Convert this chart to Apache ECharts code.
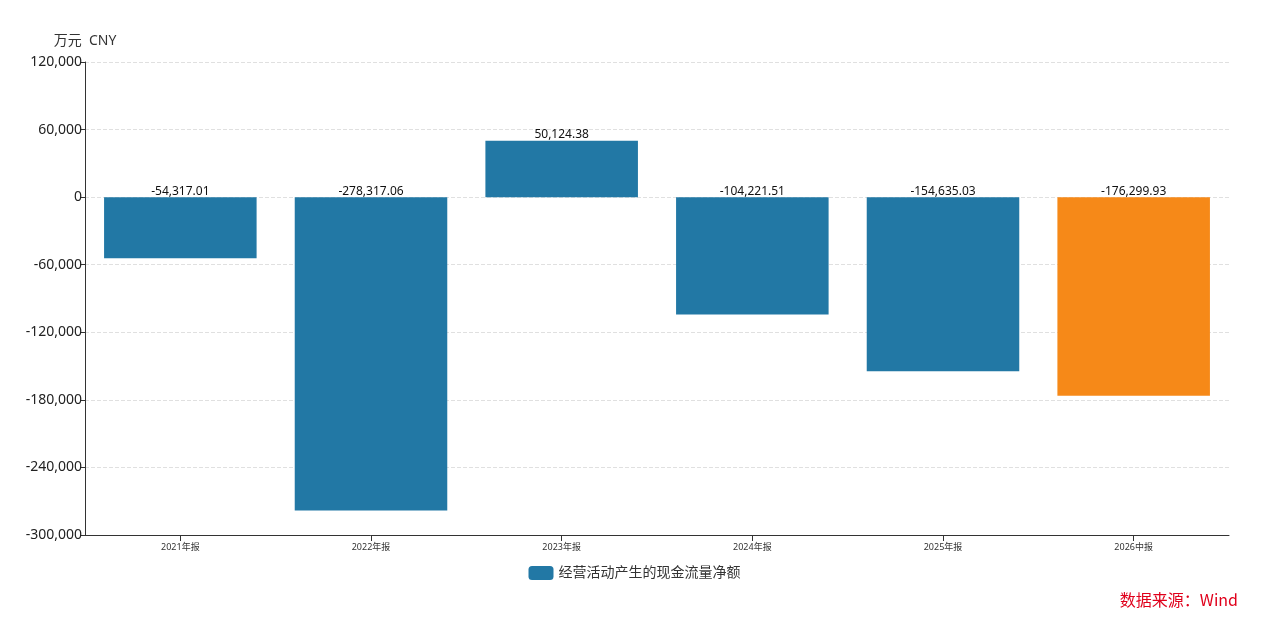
<!DOCTYPE html>
<html><head><meta charset="utf-8">
<script src="https://cdn.jsdelivr.net/npm/echarts@6/dist/echarts.min.js"></script>
<style>html,body{margin:0;padding:0;background:#fff}#c{width:1269px;height:622px}</style>
</head><body><div id="c"></div>
<script>
var categories = ['2021年报','2022年报','2023年报','2024年报','2025年报','2026中报'];
var values = [-54317.01, -278317.06, 50124.38, -104221.51, -154635.03, -176299.93];
var highlightIndex = 5;
var seriesName = '经营活动产生的现金流量净额';
var yMin = -300000, yMax = 120000, yStep = 60000;

var FONT = "'Noto Sans','Noto Sans CJK SC',sans-serif";
var chart = echarts.init(document.getElementById('c'));
var fmt = function(v, d){ return v.toLocaleString('en-US', {minimumFractionDigits:d, maximumFractionDigits:d}); };
chart.setOption({
  animation: false,
  textStyle: {fontFamily: FONT},
  grid: {left: 85, right: 40, top: 62, bottom: 87},
  legend: {
    bottom: 37, left: 'center', itemWidth: 25, itemHeight: 14, icon: 'roundRect', itemGap: 6,
    textStyle: {fontSize: 14, color: '#333', fontFamily: FONT},
    data: [seriesName]
  },
  graphic: [{
    type: 'text', right: 31, bottom: 14,
    style: {text: '数据来源：Wind', fill: '#e0001b', font: "16px 'Noto Sans CJK SC',sans-serif"}
  }],
  xAxis: {
    type: 'category', data: categories,
    axisLine: {onZero: false, lineStyle: {color: '#333'}},
    axisTick: {show: true, alignWithLabel: true, length: 6, lineStyle: {color: '#333', width: 1}},
    axisLabel: {fontSize: 9, color: '#333', margin: 8}
  },
  yAxis: {
    type: 'value', min: yMin, max: yMax, interval: yStep,
    name: '万元  CNY', nameGap: 14,
    nameTextStyle: {fontSize: 14, color: '#333'},
    axisLine: {show: true, lineStyle: {color: '#333'}},
    axisTick: {show: true, length: 5, lineStyle: {color: '#333'}},
    axisLabel: {fontSize: 14, color: '#222', margin: 3, formatter: function(v){ return fmt(v, 0); }},
    splitLine: {lineStyle: {type: 'dashed', color: '#e0e0e0'}}
  },
  series: [{
    name: seriesName, type: 'bar', barWidth: '80%',
    itemStyle: {color: '#2278a5'},
    label: {show: true, position: 'top', distance: 0, fontSize: 12, color: '#111',
      formatter: function(p){ return fmt(p.value, 2); }},
    data: values.map(function(v, i){
      return i === highlightIndex ? {value: v, itemStyle: {color: '#f68918'}} : v;
    })
  }]
});
</script></body></html>
